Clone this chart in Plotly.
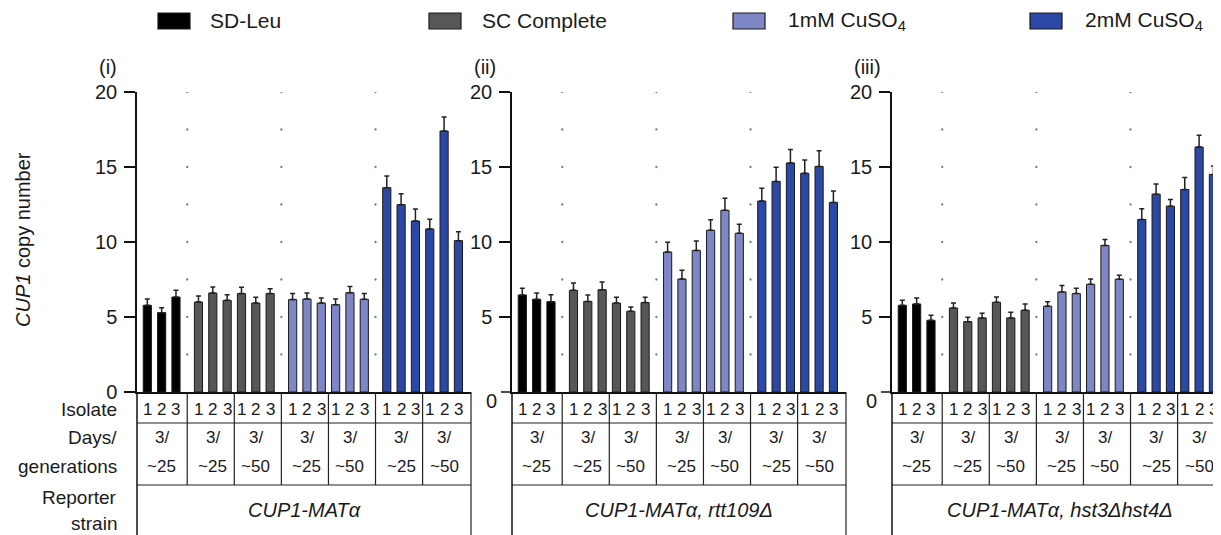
import plotly.graph_objects as go

# ---------------- data ----------------
conditions = ["SD-Leu", "SC Complete", "1mM CuSO<sub>4</sub>", "2mM CuSO<sub>4</sub>"]
cond_colors = ["#000000", "#575757", "#7f86c6", "#2c48a5"]
isolate_labels = ["1", "2", "3"]
days_top = "3/"
gen_labels = [["~25"], ["~25", "~50"], ["~25", "~50"], ["~25", "~50"]]
panel_labels = ["(i)", "(ii)", "(iii)"]
strains = ["CUP1-MATα", "CUP1-MATα, rtt109Δ", "CUP1-MATα, hst3Δhst4Δ"]
row_labels = [["Isolate"], ["Days/", "generations"], ["Reporter", "strain"]]
y_ticks = [0, 5, 10, 15, 20]

# panel (i) CUP1-MATa
p1_vals = [
    [5.78, 5.29, 6.33],
    [6.00, 6.60, 6.11, 6.56, 5.93, 6.56],
    [6.16, 6.20, 5.93, 5.82, 6.62, 6.18],
    [13.62, 12.49, 11.40, 10.87, 17.40, 10.09],
]
p1_err = [
    [0.42, 0.33, 0.45],
    [0.40, 0.40, 0.38, 0.42, 0.38, 0.33],
    [0.40, 0.40, 0.34, 0.38, 0.42, 0.38],
    [0.78, 0.73, 0.80, 0.64, 0.93, 0.60],
]
# panel (ii) rtt109
p2_vals = [
    [6.47, 6.18, 6.02],
    [6.78, 6.04, 6.82, 5.93, 5.38, 5.96],
    [9.33, 7.53, 9.44, 10.78, 12.11, 10.58],
    [12.73, 14.04, 15.27, 14.58, 15.04, 12.64],
]
p2_err = [
    [0.44, 0.42, 0.47],
    [0.49, 0.43, 0.51, 0.38, 0.29, 0.35],
    [0.65, 0.58, 0.63, 0.71, 0.80, 0.60],
    [0.85, 0.94, 0.89, 0.89, 1.05, 0.76],
]
# panel (iii) hst3 hst4
p3_vals = [
    [5.78, 5.87, 4.78],
    [5.60, 4.69, 4.94, 5.98, 4.94, 5.45],
    [5.72, 6.67, 6.56, 7.18, 9.77, 7.52],
    [11.50, 13.19, 12.39, 13.50, 16.33, 14.50],
]
p3_err = [
    [0.34, 0.40, 0.34],
    [0.34, 0.29, 0.31, 0.36, 0.38, 0.42],
    [0.29, 0.43, 0.36, 0.36, 0.40, 0.27],
    [0.71, 0.67, 0.45, 0.80, 0.78, 0.56],
]
panels_vals = [p1_vals, p2_vals, p3_vals]
panels_err = [p1_err, p2_err, p3_err]

# ---------------- layout geometry ----------------
W, H = 1221, 535
OFF = 8                 # page offset of the plot div (body margin)
FONT = "Liberation Sans, Arial, Helvetica, sans-serif"
TXT = "#1a1a1a"
CAT_GAP = 1.57
PPU = 14.33
X_LO = -0.72
axis_px = [137, 512, 892]
right_px = [471, 846, 1229]
y0_px, y20_px = 392, 92
row_lines_px = [423, 485]


def px(p):
    return (p - OFF) / W


def py(p):
    return (H - (p - OFF)) / H


def ann(text, x, y, xref="paper", size=19, xanchor="center", **kw):
    d = dict(text=text, xref=xref, yref="paper", x=x, y=py(y), xanchor=xanchor,
             yanchor="middle", showarrow=False,
             font=dict(family=FONT, size=size, color=TXT))
    d.update(kw)
    return d


positions = []
cur = 0.0
for c, vals in enumerate(p1_vals):
    if c > 0:
        cur += CAT_GAP
    positions.append([cur + i for i in range(len(vals))])
    cur = positions[-1][-1]

cat_bounds = [(positions[c][-1] + positions[c + 1][0]) / 2 for c in range(len(positions) - 1)]
flat_pos = [p for grp in positions for p in grp]
sub_groups = [flat_pos[i:i + 3] for i in range(0, len(flat_pos), 3)]
sub_bounds = [(sub_groups[i][-1] + sub_groups[i + 1][0]) / 2 for i in range(len(sub_groups) - 1)]
sub_gen = [g for gl in gen_labels for g in gl]

fig = go.Figure()
shapes = []
annotations = []

for p in range(3):
    xa = "x" if p == 0 else f"x{p+1}"
    ya = "y" if p == 0 else f"y{p+1}"
    r_px = min(right_px[p], W + OFF)
    x_hi = X_LO + (r_px - axis_px[p]) / PPU

    def to_paper(xd, p=p):
        return px(axis_px[p] + (xd - X_LO) * PPU)

    for c in range(4):
        fig.add_trace(go.Bar(
            x=positions[c], y=panels_vals[p][c], width=0.57,
            marker=dict(color=cond_colors[c], line=dict(color="#1a1a1a", width=1)),
            error_y=dict(type="data", symmetric=False, array=panels_err[p][c],
                         arrayminus=[0] * len(panels_err[p][c]),
                         color="#222222", thickness=1.5, width=2.5),
            xaxis=xa, yaxis=ya, showlegend=False, hoverinfo="skip",
        ))
    dx, dy = [], []
    for b in cat_bounds:
        for k in range(1, 9):
            dx.append(b)
            dy.append(2.5 * k)
    fig.add_trace(go.Scatter(x=dx, y=dy, mode="markers",
                             marker=dict(size=2.3, color="#7a7a7a"),
                             xaxis=xa, yaxis=ya, showlegend=False, hoverinfo="skip"))

    dom = [px(axis_px[p]), min(1.0, px(r_px))]
    fig.layout[("xaxis" if p == 0 else f"xaxis{p+1}")] = dict(
        domain=dom, range=[X_LO, x_hi], showline=True, linecolor="#111111", linewidth=1.5,
        showticklabels=False, ticks="", showgrid=False, zeroline=False,
        anchor=ya, fixedrange=True)
    fig.layout[("yaxis" if p == 0 else f"yaxis{p+1}")] = dict(
        domain=[py(y0_px), py(y20_px)], range=[0, 20], showline=True,
        linecolor="#111111", linewidth=1.5, ticks="outside", ticklen=11,
        tickwidth=1.5, tickcolor="#111111", tickvals=y_ticks if p == 0 else y_ticks[1:],
        tickfont=dict(family=FONT, size=20, color=TXT), ticklabelstandoff=3,
        showgrid=False, zeroline=False, anchor=xa, fixedrange=True)

    if p > 0:
        annotations.append(ann("0", px(axis_px[p] - 21), 401, size=20))
        shapes.append(dict(type="line", xref="paper", yref="paper",
                           x0=px(axis_px[p] - 11), x1=px(axis_px[p]),
                           y0=py(y0_px), y1=py(y0_px), line=dict(color="#111111", width=1.5)))

    annotations.append(ann(panel_labels[p], px(axis_px[p] - 40), 67, xanchor="left", size=20))

    lx, rx = px(axis_px[p]), min(1.0, px(r_px))
    for rl in row_lines_px:
        shapes.append(dict(type="line", xref="paper", yref="paper", x0=lx, x1=rx,
                           y0=py(rl), y1=py(rl), line=dict(color="#222222", width=1.2)))
    shapes.append(dict(type="line", xref="paper", yref="paper", x0=lx, x1=lx,
                       y0=0, y1=py(y0_px), line=dict(color="#111111", width=1.5)))
    if right_px[p] < W:
        shapes.append(dict(type="line", xref="paper", yref="paper", x0=rx, x1=rx,
                           y0=0, y1=py(y0_px), line=dict(color="#222222", width=1.2)))
    for sb in sub_bounds:
        xp = to_paper(sb)
        shapes.append(dict(type="line", xref="paper", yref="paper", x0=xp, x1=xp,
                           y0=py(row_lines_px[1]), y1=py(y0_px),
                           line=dict(color="#222222", width=1.2)))

    for grp in sub_groups:
        for i, xv in enumerate(grp):
            annotations.append(ann(isolate_labels[i], xv, 409, xref=xa, size=17))
    for grp, g in zip(sub_groups, sub_gen):
        annotations.append(ann(days_top, grp[1], 437, xref=xa, size=17))
        annotations.append(ann(g, grp[1], 466, xref=xa, size=17))
    cx = (axis_px[p] + r_px) / 2 if p < 2 else (axis_px[p] + 1228) / 2
    annotations.append(ann(f"<i>{strains[p]}</i>", px(cx), 510, size=20))

row_y = [[409], [437, 466], [497, 523]]
for labels, ys in zip(row_labels, row_y):
    for t, yy in zip(labels, ys):
        annotations.append(ann(t, px(119), yy, xanchor="right"))

annotations.append(ann("<i>CUP1</i> copy number", px(23), 240, textangle=-90, size=20))

leg_sq_x = [158, 429, 733, 1030]
leg_tx_x = [208, 480, 786, 1083]
for c in range(4):
    shapes.append(dict(type="rect", xref="paper", yref="paper",
                       x0=px(leg_sq_x[c]), x1=px(leg_sq_x[c] + 32),
                       y0=py(29), y1=py(13), fillcolor=cond_colors[c],
                       line=dict(color="#1a1a1a", width=1.2)))
    annotations.append(ann(conditions[c], px(leg_tx_x[c]), 21, xanchor="left", size=21))

fig.update_layout(
    width=W, height=H, margin=dict(l=0, r=0, t=0, b=0, autoexpand=False),
    paper_bgcolor="white", plot_bgcolor="white",
    barmode="overlay", shapes=shapes, annotations=annotations,
    font=dict(family=FONT, color=TXT), showlegend=False,
)
fig.write_html("out.html")
